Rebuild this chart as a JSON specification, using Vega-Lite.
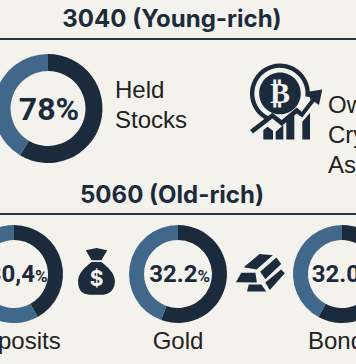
{"$schema":"https://vega.github.io/schema/vega-lite/v6.json","width":356,"height":364,"padding":0,"autosize":{"type":"none"},"background":"#f4f2ed","config":{"view":{"stroke":null}},
"datasets":{"topShares":[{"item":"Held Stocks","segment":"dark","order":1,"value":58.6},{"item":"Held Stocks","segment":"light","order":2,"value":41.4}],
"bottomShares":[{"group":"5060","item":"Deposits","segment":"dark","order":1,"value":42},{"group":"5060","item":"Deposits","segment":"light","order":2,"value":58},{"group":"5060","item":"Gold","segment":"dark","order":1,"value":55.6},{"group":"5060","item":"Gold","segment":"light","order":2,"value":44.4},{"group":"5060","item":"Bonds","segment":"dark","order":1,"value":58},{"group":"5060","item":"Bonds","segment":"light","order":2,"value":42}],
"bottomLabels":[{"group":"5060","item":"Deposits","number":"30,4","pct":"%"},{"group":"5060","item":"Gold","number":"32.2","pct":"%"},{"group":"5060","item":"Bonds","number":"32.0","pct":"%"}],
"titles":[{"group":"3040 (Young-rich)"},{"group":"5060 (Old-rich)"}],
"topLabel":[{"item":"Held Stocks","label":"78%"}],
"heldCaption":[{"item":"Held Stocks","caption":"Held\nStocks"}],
"cryptoCaption":[{"item":"Crypto","caption":"Owned\nCrypto\nAssets"}],
"cryptoIcon":[{"item":"Crypto","glyph":"₿"}],
"bagIcon":[{"item":"Money bag","glyph":"$"}],
"goldIcon":[{"item":"Gold bars"}]},
"layer":[
{"data":{"name":"titles"},"mark":{"type":"text","font":"Inter","fontSize":24,"fontWeight":"bold","color":"#1c2b3c","align":"center","baseline":"middle"},"encoding":{"x":{"field":"group","type":"nominal","axis":null,"scale":{"domain":["3040 (Young-rich)","5060 (Old-rich)"],"range":[172,172],"padding":0}},"y":{"field":"group","type":"nominal","axis":null,"scale":{"domain":["3040 (Young-rich)","5060 (Old-rich)"],"range":[20,196],"padding":0}},"text":{"field":"group"}}},
{"data":{"name":"titles"},"mark":{"type":"rule","stroke":"#263748","strokeWidth":2},"encoding":{"y":{"field":"group","type":"nominal","axis":null,"scale":{"type":"point","domain":["3040 (Young-rich)","5060 (Old-rich)"],"range":[39,214],"padding":0}}}},
{"data":{"name":"topShares"},"transform":[{"stack":"value","groupby":["item"],"sort":[{"field":"order","order":"ascending"}],"as":["v0","v1"]}],"mark":{"type":"arc","innerRadius":37.5,"outerRadius":54.5},"encoding":{"x":{"field":"item","type":"nominal","axis":null,"scale":{"range":[48,48],"padding":0}},"y":{"field":"item","type":"nominal","axis":null,"scale":{"range":[108.5,108.5],"padding":0}},"theta":{"field":"v0","type":"quantitative","scale":{"domain":[0,100]}},"theta2":{"field":"v1"},"color":{"field":"segment","type":"nominal","legend":null,"scale":{"domain":["dark","light"],"range":["#1c2b3c","#41688a"]}}}},
{"data":{"name":"bottomShares"},"transform":[{"stack":"value","groupby":["item"],"sort":[{"field":"order","order":"ascending"}],"as":["v0","v1"]}],"mark":{"type":"arc","innerRadius":34,"outerRadius":49},"encoding":{"x":{"field":"item","type":"nominal","axis":null,"scale":{"domain":["Deposits","Gold","Bonds"],"range":[14,342],"padding":0}},"y":{"field":"group","type":"nominal","axis":null,"scale":{"range":[274,274],"padding":0}},"theta":{"field":"v0","type":"quantitative","scale":{"domain":[0,100]}},"theta2":{"field":"v1"},"color":{"field":"segment","type":"nominal","legend":null,"scale":{"domain":["dark","light"],"range":["#1c2b3c","#41688a"]}}}},
{"data":{"name":"topLabel"},"mark":{"type":"text","font":"Roboto","fontSize":32,"fontWeight":"bold","color":"#1c2b3c","align":"center","baseline":"alphabetic"},"encoding":{"x":{"field":"item","type":"nominal","axis":null,"scale":{"range":[49,49],"padding":0}},"y":{"field":"item","type":"nominal","axis":null,"scale":{"range":[120,120],"padding":0}},"text":{"field":"label"}}},
{"data":{"name":"bottomLabels"},"mark":{"type":"text","font":"Roboto","fontSize":24,"fontWeight":"bold","color":"#1c2b3c","align":"right","baseline":"alphabetic","dx":18},"encoding":{"x":{"field":"item","type":"nominal","axis":null,"scale":{"domain":["Deposits","Gold","Bonds"],"range":[17,342],"padding":0}},"y":{"field":"group","type":"nominal","axis":null,"scale":{"range":[282,282],"padding":0}},"text":{"field":"number"}}},
{"data":{"name":"bottomLabels"},"mark":{"type":"text","font":"Roboto","fontSize":17,"fontWeight":"bold","color":"#1c2b3c","align":"left","baseline":"alphabetic","dx":18},"encoding":{"x":{"field":"item","type":"nominal","axis":null,"scale":{"domain":["Deposits","Gold","Bonds"],"range":[17,342],"padding":0}},"y":{"field":"group","type":"nominal","axis":null,"scale":{"range":[282,282],"padding":0}},"text":{"field":"pct"}}},
{"data":{"name":"bottomLabels"},"mark":{"type":"text","font":"Liberation Sans","fontSize":24,"color":"#222222","align":"center","baseline":"alphabetic"},"encoding":{"x":{"field":"item","type":"nominal","axis":null,"scale":{"domain":["Deposits","Gold","Bonds"],"range":[14,342],"padding":0}},"y":{"field":"group","type":"nominal","axis":null,"scale":{"range":[349,349],"padding":0}},"text":{"field":"item"}}},
{"data":{"name":"heldCaption"},"mark":{"type":"text","font":"Liberation Sans","fontSize":24,"color":"#222222","align":"left","baseline":"alphabetic","lineBreak":"\n","lineHeight":30},"encoding":{"x":{"field":"item","type":"nominal","axis":null,"scale":{"range":[115,115],"padding":0}},"y":{"field":"item","type":"nominal","axis":null,"scale":{"range":[98,98],"padding":0}},"text":{"field":"caption"}}},
{"data":{"name":"cryptoCaption"},"mark":{"type":"text","font":"Liberation Sans","fontSize":24,"color":"#222222","align":"left","baseline":"alphabetic","lineBreak":"\n","lineHeight":30},"encoding":{"x":{"field":"item","type":"nominal","axis":null,"scale":{"range":[328,328],"padding":0}},"y":{"field":"item","type":"nominal","axis":null,"scale":{"range":[113,113],"padding":0}},"text":{"field":"caption"}}},
{"data":{"name":"cryptoIcon"},"mark":{"type":"point","filled":true,"opacity":1,"color":"#1c2b3c","strokeWidth":0,"size":6400,"shape":"M-.438,.45 A.75,.75 0 1 1 .62,-.145 L.51,-.158 A.64,.64 0 1 0 -.392,.349Z M-.645,-.233 A.52,.52 0 1 1 .395,-.233 A.52,.52 0 1 1 -.645,-.233Z M-.875,.683 L-.317,.25 L-.083,.433 L.292,.117 L.417,.225 L.642,-.067 L.567,-.275 L.933,-.333 L.85,.058 L.733,-.025 L.433,.367 L.292,.267 L-.083,.583 L-.317,.392 L-.8,.767Z M-.542,.683 L-.433,.6 L-.3,.7 L-.3,.917 L-.542,.917Z M-.233,.725 L-.042,.558 L-.042,.917 L-.233,.917Z M.033,.475 L.233,.308 L.233,.917 L.033,.917Z M.433,.475 L.625,.25 L.625,.917 L.433,.917Z"},"encoding":{"x":{"field":"item","type":"nominal","axis":null,"scale":{"range":[285,285],"padding":0}},"y":{"field":"item","type":"nominal","axis":null,"scale":{"range":[102.7,102.7],"padding":0}}}},
{"data":{"name":"cryptoIcon"},"mark":{"type":"text","font":"DejaVu Sans","fontSize":30,"fontWeight":"bold","color":"#f4f2ed","align":"center","baseline":"middle"},"encoding":{"x":{"field":"item","type":"nominal","axis":null,"scale":{"range":[280,280],"padding":0}},"y":{"field":"item","type":"nominal","axis":null,"scale":{"range":[94,94],"padding":0}},"text":{"field":"glyph"}}},
{"data":{"name":"bagIcon"},"mark":{"type":"point","filled":true,"opacity":1,"color":"#1c2b3c","strokeWidth":0,"size":2178,"shape":"M-.46,-.93 L0,-1.03 L.46,-.93 L.21,-.5 L-.21,-.5Z M-.21,-.43 L.21,-.43 C.5,-.2 .79,.05 .79,.4 C.79,.8 .5,.97 .3,.97 L-.3,.97 C-.6,.97 -.79,.8 -.79,.4 C-.79,.05 -.5,-.2 -.21,-.43Z"},"encoding":{"x":{"field":"item","type":"nominal","axis":null,"scale":{"range":[96.5,96.5],"padding":0}},"y":{"field":"item","type":"nominal","axis":null,"scale":{"range":[272,272],"padding":0}}}},
{"data":{"name":"bagIcon"},"mark":{"type":"text","font":"Inter","fontSize":21,"fontWeight":"bold","color":"#f4f2ed","align":"center","baseline":"middle"},"encoding":{"x":{"field":"item","type":"nominal","axis":null,"scale":{"range":[96.5,96.5],"padding":0}},"y":{"field":"item","type":"nominal","axis":null,"scale":{"range":[280,280],"padding":0}},"text":{"field":"glyph"}}},
{"data":{"name":"goldIcon"},"mark":{"type":"point","filled":true,"opacity":1,"color":"#1c2b3c","strokeWidth":0,"size":3600,"shape":"M-.08,-.53 L.36,-.49 L-.18,-.02 L-.61,-.09Z M.48,-.42 L.64,-.2 L.11,.31 L-.06,.06Z M.64,-.02 L.76,.11 L.26,.67 L.11,.42Z M-.69,.09 L-.22,.09 L-.17,.42 L-.87,.41Z M-.44,.48 L-.02,.48 L.14,.72 L-.5,.72Z"},"encoding":{"x":{"field":"item","type":"nominal","axis":null,"scale":{"range":[262,262],"padding":0}},"y":{"field":"item","type":"nominal","axis":null,"scale":{"range":[270,270],"padding":0}}}}
],
"resolve":{"scale":{"x":"independent","y":"independent","theta":"independent"}}}
